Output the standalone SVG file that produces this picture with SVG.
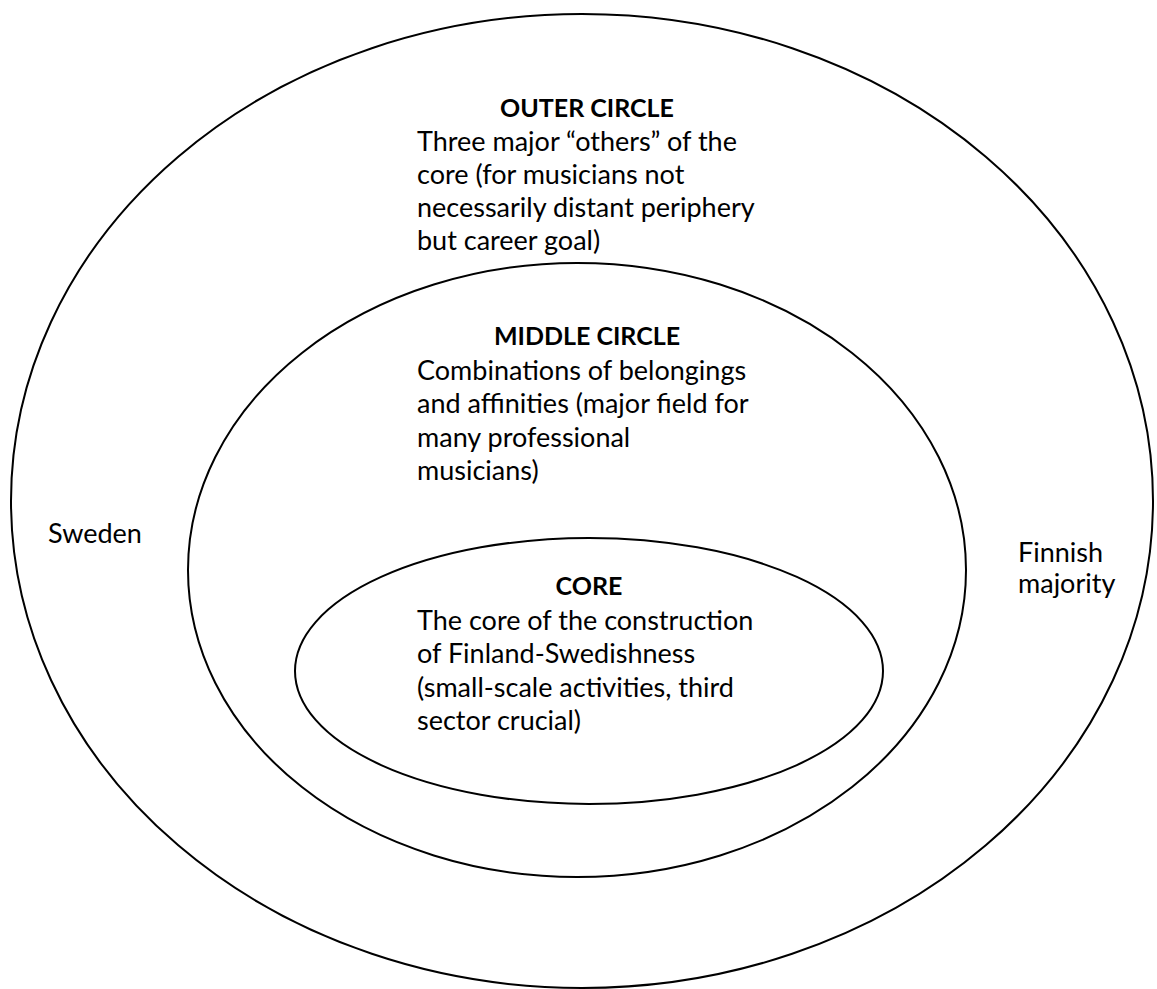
<svg xmlns="http://www.w3.org/2000/svg" width="1157" height="989" viewBox="0 0 1157 989">
<style>
.ring{fill:none;stroke:#000;stroke-width:2}
text{font-family:Lato,"Liberation Sans",sans-serif;font-size:27px;fill:#000}
.t{font-weight:bold;text-anchor:middle;font-size:25px}
</style>
<rect width="1157" height="989" fill="#fff"/>
<g id="outer">
<ellipse class="ring" cx="582" cy="501" rx="571" ry="487"/>
<text class="t" x="587" y="117">OUTER CIRCLE</text>
<text x="417" y="151">Three major “others” of the</text>
<text x="417" y="184">core (for musicians not</text>
<text x="417" y="217">necessarily distant periphery</text>
<text x="417" y="250">but career goal)</text>
</g>
<g id="middle">
<ellipse class="ring" cx="577" cy="570" rx="389" ry="307"/>
<text class="t" x="587" y="345">MIDDLE CIRCLE</text>
<text x="417" y="380">Combinations of belongings</text>
<text x="417" y="413">and affinities (major field for</text>
<text x="417" y="447">many professional</text>
<text x="417" y="480">musicians)</text>
</g>
<g id="core">
<ellipse class="ring" cx="589" cy="671" rx="294" ry="133"/>
<text class="t" x="589" y="595">CORE</text>
<text x="417" y="630">The core of the construction</text>
<text x="417" y="663">of Finland-Swedishness</text>
<text x="417" y="697">(small-scale activities, third</text>
<text x="417" y="730">sector crucial)</text>
</g>
<g id="sweden"><text x="48" y="543">Sweden</text></g>
<g id="finnish"><text x="1018" y="562">Finnish</text><text x="1018" y="593">majority</text></g>
<g id="connectors"/>
</svg>
